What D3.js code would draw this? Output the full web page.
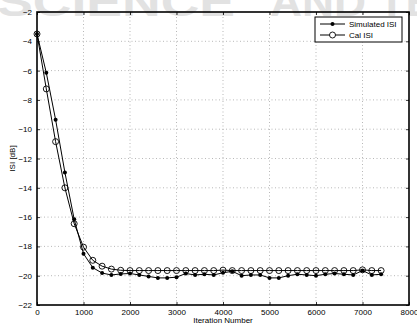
<!DOCTYPE html>
<html>
<head>
<meta charset="utf-8">
<script src="https://cdn.jsdelivr.net/npm/d3@7"></script>
<style>
  body { margin: 0; background: #fff; }
  svg { display: block; font-family: "Liberation Sans", Arial, sans-serif; }
</style>
</head>
<body>
<script>
// iterations, every 200 from 0 to 7400
const iterations = [0, 200, 400, 600, 800, 1000, 1200, 1400, 1600, 1800, 2000, 2200, 2400, 2600, 2800, 3000, 3200, 3400, 3600, 3800,
  4000, 4200, 4400, 4600, 4800, 5000, 5200, 5400, 5600, 5800, 6000, 6200, 6400, 6600, 6800, 7000, 7200, 7400]
const simulatedISI = [-3.5, -6.15, -9.35, -12.95, -16.15, -18.5, -19.45, -19.82, -19.95, -19.88, -19.85, -19.95, -20.05, -20.15, -20.15, -20.1, -19.85, -19.95, -19.9, -19.95,
  -19.8, -19.7, -20.0, -19.95, -19.95, -20.15, -20.15, -20.0, -19.9, -19.95, -20.0, -19.9, -19.85, -19.9, -19.95, -19.65, -19.95, -19.9]
const calISI = [-3.5, -7.25, -10.85, -14.0, -16.45, -18.05, -18.95, -19.35, -19.55, -19.63, -19.65, -19.65, -19.65, -19.65, -19.65, -19.65, -19.65, -19.65, -19.65, -19.65,
  -19.62, -19.65, -19.65, -19.65, -19.65, -19.65, -19.65, -19.65, -19.65, -19.65, -19.65, -19.65, -19.65, -19.65, -19.65, -19.6, -19.65, -19.65]
const xTicks = [0, 1000, 2000, 3000, 4000, 5000, 6000, 7000, 8000]
const yTicks = [-22, -20, -18, -16, -14, -12, -10, -8, -6, -4, -2]
const legendLabels = ['Simulated ISI', 'Cal ISI']

const width = 417
const height = 325
const m = { left: 37, right: 8, top: 12, bottom: 20 }

const svg = d3.select('body').append('svg').attr('width', width).attr('height', height)

// faint watermark from the source page
svg.append('text').attr('x', -3).attr('y', 16).attr('font-size', 40).attr('font-weight', 'bold')
  .attr('fill', '#e2e2e2').attr('textLength', 238).attr('lengthAdjust', 'spacingAndGlyphs').text('SCIENCE')
svg.append('text').attr('x', 270).attr('y', 16).attr('font-size', 40).attr('font-weight', 'bold')
  .attr('fill', '#e2e2e2').attr('textLength', 165).attr('lengthAdjust', 'spacingAndGlyphs').text('AND TE')

const x = d3.scaleLinear().domain([0, 8000]).range([m.left, width - m.right])
const y = d3.scaleLinear().domain([-22, -2]).range([height - m.bottom, m.top])
const x0 = x.range()[0], x1 = x.range()[1], y0 = y.range()[0], y1 = y.range()[1]

// grid
const grid = svg.append('g').attr('stroke', '#888').attr('stroke-width', 0.6).attr('stroke-dasharray', '1,2.5')
grid.selectAll('.gx').data(xTicks.slice(1, -1)).enter().append('line')
  .attr('x1', d => x(d)).attr('x2', d => x(d)).attr('y1', y0).attr('y2', y1)
grid.selectAll('.gy').data(yTicks.slice(1, -1)).enter().append('line')
  .attr('y1', d => y(d)).attr('y2', d => y(d)).attr('x1', x0).attr('x2', x1)

// axes (ticks inside)
const ax = svg.append('g')
ax.append('g').attr('transform', `translate(0,${y0})`)
  .call(d3.axisBottom(x).tickValues(xTicks).tickSizeInner(-3).tickSizeOuter(0).tickPadding(4).tickFormat(d3.format('d')))
ax.append('g').attr('transform', `translate(0,${y1})`)
  .call(d3.axisTop(x).tickValues(xTicks).tickSizeInner(-3).tickSizeOuter(0).tickFormat(''))
ax.append('g').attr('transform', `translate(${x0},0)`)
  .call(d3.axisLeft(y).tickValues(yTicks).tickSizeInner(-3).tickSizeOuter(0).tickPadding(5).tickFormat(d => String(d).replace('-', '\u2212')))
ax.append('g').attr('transform', `translate(${x1},0)`)
  .call(d3.axisRight(y).tickValues(yTicks).tickSizeInner(-3).tickSizeOuter(0).tickFormat(''))
ax.selectAll('.domain').remove()
ax.selectAll('g').attr('font-size', 8).attr('font-family', '"Liberation Sans", Arial, sans-serif')
ax.selectAll('.tick line').attr('stroke', '#000').attr('stroke-width', 0.8)
ax.selectAll('.tick text').attr('fill', '#000')

svg.append('rect').attr('x', x0).attr('y', y1).attr('width', x1 - x0).attr('height', y0 - y1)
  .attr('fill', 'none').attr('stroke', '#000').attr('stroke-width', 1.6)

// series
const line = d3.line().x((d, i) => x(iterations[i])).y(d => y(d))
svg.append('path').datum(calISI).attr('d', line).attr('fill', 'none').attr('stroke', '#000').attr('stroke-width', 1)
svg.append('path').datum(simulatedISI).attr('d', line).attr('fill', 'none').attr('stroke', '#000').attr('stroke-width', 1)
svg.append('g').selectAll('circle').data(simulatedISI).enter().append('circle')
  .attr('cx', (d, i) => x(iterations[i])).attr('cy', d => y(d)).attr('r', 2).attr('fill', '#000')
svg.append('g').selectAll('circle').data(calISI).enter().append('circle')
  .attr('cx', (d, i) => x(iterations[i])).attr('cy', d => y(d)).attr('r', 3)
  .attr('fill', 'none').attr('stroke', '#000').attr('stroke-width', 0.9)

// labels
svg.append('text').attr('x', (x0 + x1) / 2).attr('y', 323).attr('text-anchor', 'middle')
  .attr('font-size', 8).text('Iteration Number')
svg.append('text').attr('transform', `translate(15,${(y0 + y1) / 2}) rotate(-90)`).attr('text-anchor', 'middle')
  .attr('font-size', 8).text('ISI [dB]')

// legend
const lg = svg.append('g').attr('transform', 'translate(315,17)')
lg.append('rect').attr('width', 87).attr('height', 25).attr('fill', '#fff').attr('stroke', '#000').attr('stroke-width', 1)
legendLabels.forEach((lab, i) => {
  const ly = 7 + i * 11
  lg.append('line').attr('x1', 5).attr('x2', 30).attr('y1', ly).attr('y2', ly).attr('stroke', '#000')
  if (i === 0) lg.append('circle').attr('cx', 17.5).attr('cy', ly).attr('r', 2).attr('fill', '#000')
  else lg.append('circle').attr('cx', 17.5).attr('cy', ly).attr('r', 3).attr('fill', '#fff').attr('stroke', '#000').attr('stroke-width', 0.9)
  lg.append('text').attr('x', 34).attr('y', ly + 3).attr('font-size', 8).text(lab)
})
</script>
</body>
</html>
